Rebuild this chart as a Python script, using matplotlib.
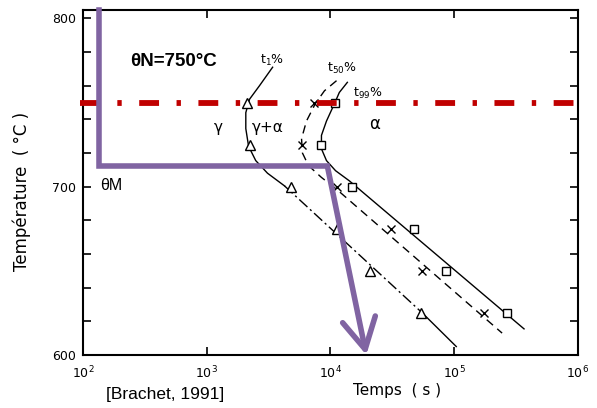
import numpy as np
import matplotlib.pyplot as plt

# TTT diagram (Brachet 1991), time in s, temperature in degC

# measured points, one row of temperatures for all three series
T_pts = [750, 725, 700, 675, 650, 625]
t_1pct = [2100, 2220, 4840, 11200, 21000, 54200]      # triangles
t_50pct = [7430, 5840, 11400, 31000, 55200, 175000]   # crosses
t_99pct = [10800, 8450, 15000, 47600, 86100, 267000]  # squares

# hand drawn curves
c1_t = [3410, 2670, 2220, 2070, 2070, 2180, 2490, 3100, 4250]
c1_T = [771, 760, 752, 744, 734.5, 724, 715.5, 708, 700.5]
c1_mid_t = [4250, 55200]
c1_mid_T = [700.5, 625]
c1_low_t = [55200, 104000]
c1_low_T = [625, 605]

c50_t = [11200, 8950, 7570, 6400, 5840, 5940, 6650, 8460, 11200, 244000]
c50_T = [763, 757, 749.5, 739, 728.5, 720, 712.5, 705.5, 698.5, 613]

c99_t = [13700, 11800, 10800, 9290, 8460, 8460, 9290, 11000, 14200, 367000]
c99_T = [762, 756, 749.5, 739, 730.5, 722.5, 715.5, 709.5, 703.5, 615.5]

# overlays
theta_N = 750
path_t = [135, 135, 9460]
path_T = [805, 712, 712]
arrow_tip = (19500, 600)

x_ticks = [1e2, 1e3, 1e4, 1e5, 1e6]
x_labels = ['$10^{2}$', '$10^{3}$', '$10^{4}$', '$10^{5}$', '$10^{6}$']
y_ticks = np.arange(600, 801, 20)

purple = '#8064a2'
red = '#c00000'

fig = plt.figure(figsize=(5.97, 4.08), dpi=100)
ax = fig.add_axes([0.139, 0.130, 0.829, 0.8455])
ax.set_xscale('log')
ax.set_xlim(1e2, 1e6)
ax.set_ylim(600, 805)

# curves
ax.plot(c1_t, c1_T, color='black', lw=1.0)
ax.plot(c1_mid_t, c1_mid_T, color='black', lw=1.0, linestyle=(0, (8, 2.5, 1.5, 2.5)))
ax.plot(c1_low_t, c1_low_T, color='black', lw=1.0)
ax.plot(c50_t, c50_T, color='black', lw=1.0, linestyle=(0, (6, 4)))
ax.plot(c99_t, c99_T, color='black', lw=1.0)

# data points
ax.plot(t_1pct, T_pts, '^', ms=6.5, mfc='white', mec='black', mew=1.0)
ax.plot(t_50pct, T_pts, 'x', ms=6, color='black', mew=1.0)
ax.plot(t_99pct, T_pts, 's', ms=6, mfc='white', mec='black', mew=1.0)

# curve / phase labels
ax.text(3400, 775, 't$_{1}$%', fontsize=9, ha='center', va='center')
ax.text(12300, 770, 't$_{50}$%', fontsize=9, ha='center', va='center')
ax.text(20200, 755.5, 't$_{99}$%', fontsize=9, ha='center', va='center')
ax.text(1230, 735, 'γ', fontsize=11, ha='center', va='center')
ax.text(3100, 735, 'γ+α', fontsize=11, ha='center', va='center')
ax.text(22600, 737, 'α', fontsize=12, ha='center', va='center')

# red dash-dot at theta_N
ax.axhline(theta_N, xmin=-0.006, xmax=0.994, color=red, lw=4.2,
           linestyle=(0, (3.4, 3.0, 0.75, 3.0)), clip_on=False, zorder=3)

# purple cooling path
ax.plot(path_t, path_T, color=purple, lw=4, solid_joinstyle='miter',
        clip_on=False, zorder=4)
ax.annotate('', xy=arrow_tip, xytext=(path_t[-1], path_T[-1]),
            arrowprops=dict(arrowstyle='->,head_length=2.2,head_width=1.2',
                            mutation_scale=10, lw=4, color=purple,
                            shrinkA=0, shrinkB=0), zorder=4, annotation_clip=False)

ax.text(0.095, 0.85, 'θN=750°C', transform=ax.transAxes, fontsize=13.5,
        fontweight='bold', family='Liberation Sans', ha='left', va='center')
ax.text(0.034, 0.49, 'θM', transform=ax.transAxes, fontsize=11.5,
        family='Liberation Sans', ha='left', va='center')

# axes
ax.set_xticks(x_ticks)
ax.set_xticklabels(x_labels, fontsize=9)
ax.xaxis.set_minor_locator(plt.NullLocator())
ax.set_yticks(y_ticks)
ax.set_yticklabels([str(v) if v % 100 == 0 else '' for v in y_ticks], fontsize=9)
ax.tick_params(direction='in', length=6, width=1.2, top=True, right=True)
ax.tick_params(axis='x', pad=7)
ax.tick_params(axis='y', pad=5)
for s in ax.spines.values():
    s.set_linewidth(1.5)

fig.text(0.037, 0.53, 'Température  ( °C )', rotation=90, fontsize=12,
         ha='center', va='center')
fig.text(0.665, 0.044, 'Temps  ( s )', fontsize=11, ha='center', va='center')
fig.text(0.276, 0.034, '[Brachet, 1991]', fontsize=12.5, family='Liberation Sans',
         ha='center', va='center')

fig.savefig('out.png', dpi=100)
